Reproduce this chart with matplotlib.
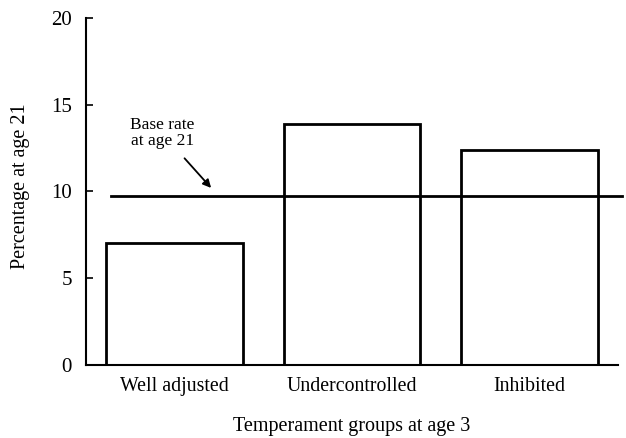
import matplotlib
matplotlib.use("Agg")
import matplotlib.pyplot as plt

categories = ["Well adjusted", "Undercontrolled", "Inhibited"]
values = [7.0, 13.9, 12.4]
base_rate = 9.75
yticks = [0, 5, 10, 15, 20]

plt.rcParams['font.family'] = ['Liberation Serif', 'DejaVu Serif']

fig = plt.figure(figsize=(6.26, 4.38), dpi=100)
ax = fig.add_axes([0.137, 0.167, 0.851, 0.792])

x = list(range(len(categories)))
ax.bar(x, values, width=0.77, facecolor='white', edgecolor='black', linewidth=2.0, zorder=2)
ax.plot([-0.36, 2.52], [base_rate, base_rate], color='black', linewidth=2.0, zorder=3, clip_on=False)

ax.set_xlim(-0.5, 2.5)
ax.set_ylim(0, 20)
ax.set_yticks(yticks)
ax.set_yticklabels([str(t) for t in yticks], fontsize=15)
ax.set_xticks(x)
ax.set_xticklabels(categories, fontsize=14.3)
ax.tick_params(axis='x', length=0, pad=9)
ax.tick_params(axis='y', direction='in', length=5, width=1.2, pad=10)

for s in ['top', 'right']:
    ax.spines[s].set_visible(False)
ax.spines['left'].set_linewidth(1.5)
ax.spines['bottom'].set_linewidth(1.5)

ax.annotate("Base rate\nat age 21", xy=(0.206, 10.2), xytext=(-0.07, 13.35),
            ha='center', va='center', fontsize=12.5, linespacing=1.0,
            arrowprops=dict(arrowstyle='-|>', color='black', lw=1.3,
                            shrinkA=6, shrinkB=0, mutation_scale=12))

ax.set_ylabel("Percentage at age 21", fontsize=14.5, labelpad=15)
ax.yaxis.label.set_y(0.515)
ax.set_xlabel("Temperament groups at age 3", fontsize=14.5, labelpad=15)

fig.savefig("out.png", dpi=100)
